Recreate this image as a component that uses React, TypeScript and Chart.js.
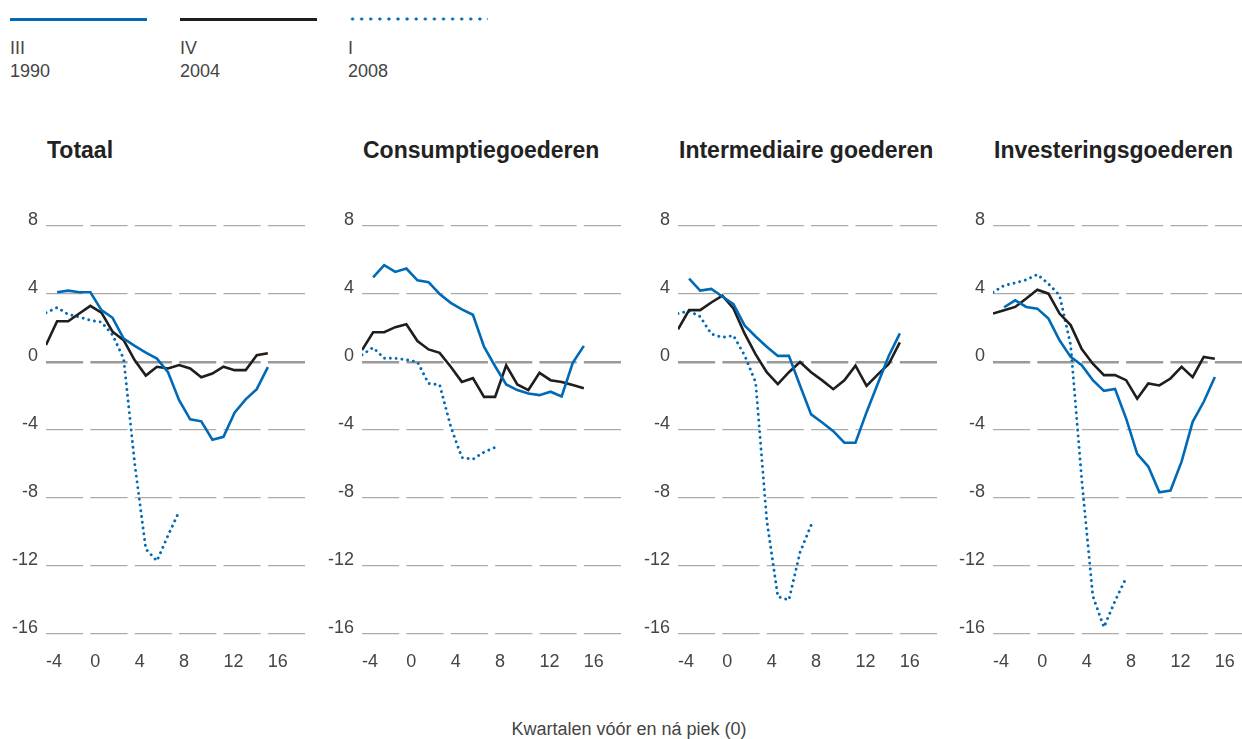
import React, { useEffect, useRef } from 'react';
import { Chart, registerables } from 'chart.js';

Chart.register(...registerables);

// ---------- data ----------
const quarters = [-4, -3, -2, -1, 0, 1, 2, 3, 4, 5, 6, 7, 8, 9, 10, 11, 12, 13, 14, 15, 16];
const xTickValues = [-4, 0, 4, 8, 12, 16];
const yTickValues = [-16, -12, -8, -4, 0, 4, 8];

const legendLabels = [
  ['III', '1990'],
  ['IV', '2004'],
  ['I', '2008'],
];

const panelTitles = ['Totaal', 'Consumptiegoederen', 'Intermediaire goederen', 'Investeringsgoederen'];

// Totaal
const totaal1990 = [null, 4.1, 4.2, 4.1, 4.1, 3.05, 2.6, 1.38, 0.95, 0.55, 0.2, -0.6, -2.25, -3.37, -3.49, -4.57, -4.4, -2.98, -2.2, -1.6, -0.3];
const totaal2004 = [1.0, 2.4, 2.4, 2.85, 3.3, 2.9, 1.78, 1.28, 0.1, -0.8, -0.28, -0.38, -0.18, -0.38, -0.9, -0.68, -0.28, -0.48, -0.48, 0.4, 0.52];
const totaal2008 = [2.9, 3.2, 2.8, 2.65, 2.45, 2.35, 1.6, 0.2, -6.0, -11.0, -11.7, -10.2, -8.8];

// Consumptiegoederen
const consumptie1990 = [null, 4.98, 5.7, 5.3, 5.5, 4.8, 4.7, 4.0, 3.48, 3.1, 2.78, 0.9, -0.25, -1.32, -1.65, -1.85, -1.95, -1.75, -2.03, -0.05, 0.95];
const consumptie2004 = [0.7, 1.75, 1.75, 2.05, 2.22, 1.23, 0.74, 0.54, -0.28, -1.17, -0.95, -2.05, -2.05, -0.2, -1.32, -1.65, -0.64, -1.07, -1.18, -1.36, -1.55];
const consumptie2008 = [0.42, 0.85, 0.22, 0.22, 0.13, 0.0, -1.26, -1.34, -3.8, -5.62, -5.72, -5.3, -5.02];

// Intermediaire goederen
const intermediair1990 = [null, 4.9, 4.2, 4.3, 3.85, 3.4, 2.15, 1.5, 0.9, 0.36, 0.36, -1.38, -3.08, -3.56, -4.07, -4.75, -4.75, -2.95, -1.3, 0.35, 1.68];
const intermediair2004 = [1.92, 3.05, 3.05, 3.5, 3.9, 3.15, 1.68, 0.45, -0.6, -1.3, -0.6, 0.0, -0.6, -1.08, -1.6, -1.08, -0.22, -1.4, -0.74, -0.12, 1.15];
const intermediair2008 = [2.85, 3.0, 2.67, 1.65, 1.45, 1.55, 0.4, -1.2, -9.3, -13.8, -14.0, -11.2, -9.6];

// Investeringsgoederen
const investering1990 = [null, 3.22, 3.63, 3.24, 3.14, 2.55, 1.28, 0.3, -0.19, -1.07, -1.7, -1.58, -3.32, -5.41, -6.15, -7.66, -7.56, -5.86, -3.52, -2.34, -0.88];
const investering2004 = [2.85, 3.05, 3.24, 3.73, 4.25, 4.02, 2.85, 2.17, 0.76, -0.1, -0.77, -0.77, -1.07, -2.16, -1.26, -1.38, -0.97, -0.28, -0.89, 0.3, 0.19];
const investering2008 = [4.1, 4.5, 4.65, 4.84, 5.15, 4.6, 3.92, 1.0, -6.93, -13.77, -15.6, -14.06, -12.7];

const panelSeries = [
  [totaal1990, totaal2004, totaal2008],
  [consumptie1990, consumptie2004, consumptie2008],
  [intermediair1990, intermediair2004, intermediair2008],
  [investering1990, investering2004, investering2008],
];

// ---------- styling ----------
const BLUE = '#006ab6';
const BLACK = '#1e1e1e';
const FONT = '"Liberation Sans", Arial, Helvetica, sans-serif';
const TICK_COLOR = '#444444';

const X_MIN = -4;
const X_MAX = 19.35;
const Y_AXIS_W = 44;
const PLOT_W = 259;
const CANVAS_W = Y_AXIS_W + PLOT_W;
const CANVAS_H = 490;
const CANVAS_TOP = 200;
const X_AXIS_H = 56;
const PAD_TOP = 26;
const GAP = 7.2;
const unitPx = PLOT_W / (X_MAX - X_MIN);
const GRID_DASH = [4 * unitPx - GAP, GAP];

const plotLefts = [46, 362, 678, 993];

function toPoints(values: (number | null)[]) {
  return values.map((v, i) => ({ x: quarters[i], y: v }));
}

function Panel({ index }: { index: number }) {
  const ref = useRef<HTMLCanvasElement | null>(null);

  useEffect(() => {
    if (!ref.current) return;
    const [s1990, s2004, s2008] = panelSeries[index];
    const chart = new Chart(ref.current, {
      type: 'line',
      data: {
        datasets: [
          {
            label: legendLabels[0].join(' '),
            data: toPoints(s1990),
            borderColor: BLUE,
            borderWidth: 2.6,
            pointRadius: 0,
            tension: 0,
            fill: false,
          },
          {
            label: legendLabels[1].join(' '),
            data: toPoints(s2004),
            borderColor: BLACK,
            borderWidth: 2.6,
            pointRadius: 0,
            tension: 0,
            fill: false,
          },
          {
            label: legendLabels[2].join(' '),
            data: toPoints(s2008),
            borderColor: BLUE,
            borderWidth: 2.9,
            borderDash: [0.01, 5.8],
            borderCapStyle: 'round',
            pointRadius: 0,
            tension: 0,
            fill: false,
          },
        ],
      },
      options: {
        animation: false,
        responsive: false,
        maintainAspectRatio: false,
        layout: { padding: { top: PAD_TOP, left: 0, right: 0, bottom: 0 } },
        plugins: {
          legend: { display: false },
          tooltip: { enabled: false },
          title: { display: false },
        },
        scales: {
          x: {
            type: 'linear',
            min: X_MIN,
            max: X_MAX,
            grid: { display: false, drawTicks: false },
            border: { display: false },
            afterBuildTicks: (scale: any) => {
              scale.ticks = xTickValues.map((v) => ({ value: v }));
            },
            afterFit: (scale: any) => {
              scale.height = X_AXIS_H;
            },
            ticks: {
              align: 'start',
              padding: 17,
              autoSkip: false,
              maxRotation: 0,
              color: TICK_COLOR,
              font: { family: FONT, size: 18 },
              callback: (v: any) => String(v),
            },
          },
          y: {
            type: 'linear',
            min: -16,
            max: 8,
            afterBuildTicks: (scale: any) => {
              scale.ticks = yTickValues.map((v) => ({ value: v }));
            },
            afterFit: (scale: any) => {
              scale.width = Y_AXIS_W;
            },
            grid: {
              drawTicks: false,
              color: (ctx: any) => (ctx.tick && ctx.tick.value === 0 ? '#9a9a9a' : '#ababab'),
              lineWidth: (ctx: any) => (ctx.tick && ctx.tick.value === 0 ? 2.6 : 1.2),
            },
            border: { display: false, dash: GRID_DASH },
            ticks: {
              padding: 8,
              labelOffset: -5.5,
              color: TICK_COLOR,
              font: { family: FONT, size: 18 },
              callback: (v: any) => String(v),
            },
          },
        },
      } as any,
    });
    return () => chart.destroy();
  }, [index]);

  const left = plotLefts[index];
  return (
    <>
      <div
        style={{
          position: 'absolute',
          left: left + 1,
          top: 138.5,
          fontFamily: FONT,
          fontWeight: 'bold',
          fontSize: 23,
          lineHeight: '23px',
          color: '#222222',
          whiteSpace: 'nowrap',
        }}
      >
        {panelTitles[index]}
      </div>
      <canvas
        ref={ref}
        width={CANVAS_W}
        height={CANVAS_H}
        style={{
          position: 'absolute',
          left: left - Y_AXIS_W,
          top: CANVAS_TOP,
          width: CANVAS_W,
          height: CANVAS_H,
        }}
      />
    </>
  );
}

function LegendItem({ i, left }: { i: number; left: number }) {
  const lineStyle: React.CSSProperties =
    i === 2
      ? {
          position: 'absolute',
          left: left,
          top: 17,
          width: 140,
          height: 4,
          backgroundImage: `radial-gradient(circle at center, ${BLUE} 1.3px, rgba(0,0,0,0) 1.8px)`,
          backgroundSize: '9.1px 4px',
          backgroundRepeat: 'repeat-x',
        }
      : {
          position: 'absolute',
          left: left,
          top: 17.5,
          width: 137,
          height: 3,
          background: i === 0 ? BLUE : BLACK,
        };
  return (
    <>
      <div style={lineStyle} />
      <div
        style={{
          position: 'absolute',
          left: left,
          top: 37,
          fontFamily: FONT,
          fontSize: 18,
          lineHeight: '23.3px',
          color: '#444444',
          whiteSpace: 'nowrap',
        }}
      >
        <div>{legendLabels[i][0]}</div>
        <div>{legendLabels[i][1]}</div>
      </div>
    </>
  );
}

export default function App() {
  return (
    <div
      style={{
        position: 'absolute',
        left: 0,
        top: 0,
        width: 1242,
        height: 739,
        overflow: 'hidden',
        background: '#ffffff',
      }}
    >
      <LegendItem i={0} left={10} />
      <LegendItem i={1} left={180} />
      <LegendItem i={2} left={348} />
      {[0, 1, 2, 3].map((i) => (
        <Panel key={i} index={i} />
      ))}
      <div
        style={{
          position: 'absolute',
          left: 0,
          width: 1258,
          top: 720,
          textAlign: 'center',
          fontFamily: FONT,
          fontSize: 18,
          lineHeight: '18px',
          color: '#444444',
          whiteSpace: 'nowrap',
        }}
      >
        Kwartalen vóór en ná piek (0)
      </div>
    </div>
  );
}
